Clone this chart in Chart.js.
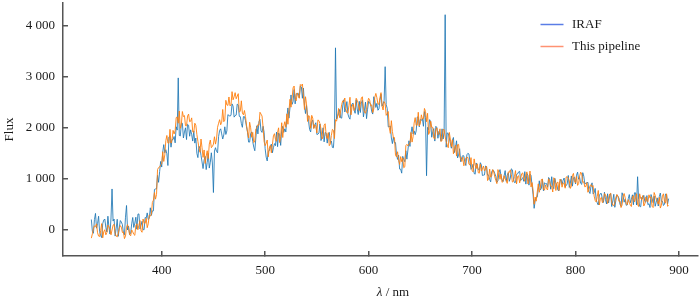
<!DOCTYPE html>
<html>
<head>
<meta charset="utf-8">
<script src="https://cdn.jsdelivr.net/npm/chart.js@4.4.1/dist/chart.umd.min.js"></script>
<style>
  html, body { margin: 0; padding: 0; background: #ffffff; }
  canvas { display: block; }
</style>
</head>
<body>
<canvas id="c" width="700" height="303"></canvas>
<script>
// Wavelength grid (nm), 1 nm sampling
const wavelength = [
  332,333,334,335,336,337,338,339,340,341,342,343,344,345,346,347,348,349,350,351,
  352,353,354,355,356,357,358,359,360,361,362,363,364,365,366,367,368,369,370,371,
  372,373,374,375,376,377,378,379,380,381,382,383,384,385,386,387,388,389,390,391,
  392,393,394,395,396,397,398,399,400,401,402,403,404,405,406,407,408,409,410,411,
  412,413,414,415,416,417,418,419,420,421,422,423,424,425,426,427,428,429,430,431,
  432,433,434,435,436,437,438,439,440,441,442,443,444,445,446,447,448,449,450,451,
  452,453,454,455,456,457,458,459,460,461,462,463,464,465,466,467,468,469,470,471,
  472,473,474,475,476,477,478,479,480,481,482,483,484,485,486,487,488,489,490,491,
  492,493,494,495,496,497,498,499,500,501,502,503,504,505,506,507,508,509,510,511,
  512,513,514,515,516,517,518,519,520,521,522,523,524,525,526,527,528,529,530,531,
  532,533,534,535,536,537,538,539,540,541,542,543,544,545,546,547,548,549,550,551,
  552,553,554,555,556,557,558,559,560,561,562,563,564,565,566,567,568,569,570,571,
  572,573,574,575,576,577,578,579,580,581,582,583,584,585,586,587,588,589,590,591,
  592,593,594,595,596,597,598,599,600,601,602,603,604,605,606,607,608,609,610,611,
  612,613,614,615,616,617,618,619,620,621,622,623,624,625,626,627,628,629,630,631,
  632,633,634,635,636,637,638,639,640,641,642,643,644,645,646,647,648,649,650,651,
  652,653,654,655,656,657,658,659,660,661,662,663,664,665,666,667,668,669,670,671,
  672,673,674,675,676,677,678,679,680,681,682,683,684,685,686,687,688,689,690,691,
  692,693,694,695,696,697,698,699,700,701,702,703,704,705,706,707,708,709,710,711,
  712,713,714,715,716,717,718,719,720,721,722,723,724,725,726,727,728,729,730,731,
  732,733,734,735,736,737,738,739,740,741,742,743,744,745,746,747,748,749,750,751,
  752,753,754,755,756,757,758,759,760,761,762,763,764,765,766,767,768,769,770,771,
  772,773,774,775,776,777,778,779,780,781,782,783,784,785,786,787,788,789,790,791,
  792,793,794,795,796,797,798,799,800,801,802,803,804,805,806,807,808,809,810,811,
  812,813,814,815,816,817,818,819,820,821,822,823,824,825,826,827,828,829,830,831,
  832,833,834,835,836,837,838,839,840,841,842,843,844,845,846,847,848,849,850,851,
  852,853,854,855,856,857,858,859,860,861,862,863,864,865,866,867,868,869,870,871,
  872,873,874,875,876,877,878,879,880,881,882,883,884,885,886,887,888,889,890
];

// IRAF flux
const irafFlux = [
  200,-30,-70,200,320,30,120,265,-40,-115,-155,120,190,210,45,-45,265,50,-85,230,
  800,170,210,-125,30,205,-130,40,180,150,100,-60,-100,245,475,-5,70,-95,-70,115,
  240,45,130,245,10,305,310,15,80,165,0,0,240,225,330,200,220,430,280,370,
  370,790,800,800,1070,930,1140,1340,1230,1520,1670,1510,1570,1490,1260,1820,1830,1620,1770,1770,
  1830,1705,2020,1955,2980,1850,1840,2085,2090,1800,1920,2000,1770,2070,2050,1835,1960,1865,1740,1940,
  1700,1800,1500,1415,1640,1590,1460,1330,1200,1370,1440,1180,1320,1495,1210,1325,1510,1310,730,1545,
  1610,1540,1510,1830,1950,1980,1880,1780,1860,2020,1870,1940,2260,2240,2230,2245,2470,2425,2210,2240,
  2250,2465,2450,2225,2220,2085,2010,2220,2220,2140,2020,1910,1720,1720,1890,1920,1730,1620,1550,1800,
  2040,1880,2120,2165,1940,1910,2030,1910,1590,1425,1350,1540,1550,1635,1680,1510,1610,1690,1650,1915,
  1630,1900,1860,1655,1960,2030,1910,1980,1920,2205,2390,2190,2390,2645,2460,2515,2750,2470,2670,2665,
  2680,2590,2820,2805,2580,2780,2440,2280,2440,2245,2120,1965,1920,2115,2150,1995,2060,2100,1870,1875,
  1900,2075,1750,1840,2000,1725,1910,1895,1700,1875,1910,1715,1740,1615,1610,1920,3570,2170,2220,2285,
  2360,2195,2190,2430,2550,2310,2380,2515,2270,2205,2170,2405,2470,2485,2350,2285,2550,2370,2260,2520,
  2300,2485,2540,2215,2350,2505,2180,2365,2520,2490,2460,2315,2270,2610,2540,2400,2480,2345,2370,2540,
  2660,2425,2470,2530,3200,2455,2380,2020,2020,2035,1800,1690,1820,1705,1710,1470,1380,1465,1190,1185,
  1110,1440,1375,1335,1550,1385,1565,1745,1635,1900,2020,1880,1940,1865,1940,2210,2215,2020,2165,2145,
  2180,2030,2320,2205,1060,2010,1960,2160,2120,1815,1920,1985,1740,2030,2000,1795,1930,1850,1740,1980,
  1780,1915,4220,1620,1900,1890,1800,1700,1600,1755,1810,1515,1620,1745,1410,1465,1590,1335,1420,1455,
  1450,1330,1260,1470,1500,1485,1335,1185,1210,1285,1105,1090,1310,1245,1185,1165,1315,1270,1065,1070,
  1075,1250,1240,1070,1075,985,940,1140,1175,1155,1100,1050,930,960,1120,1180,1060,985,945,1060,
  1160,950,1065,1115,950,1015,1195,1175,990,925,930,1085,1095,1135,1145,965,1000,1020,950,1140,
  895,1105,1070,875,1090,1065,870,685,420,565,640,640,790,960,780,810,990,765,920,905,
  905,835,1025,995,795,1040,850,805,1010,915,875,775,765,940,990,890,970,1015,840,865,
  900,1065,830,915,1055,855,1020,1030,900,1070,1130,990,1025,910,890,1120,1050,895,915,920,
  930,755,710,860,920,700,725,810,590,525,485,665,710,710,595,535,735,590,505,705,
  525,670,710,455,565,695,440,575,685,655,620,500,460,725,660,540,600,480,485,610,
  690,530,595,685,490,725,725,485,1040,595,460,450,635,610,675,555,540,670,490,510,
  435,690,620,530,660,460,540,625,465,650,720,555,560,475,500,700,690,505,610
];

// This pipeline flux
const pipelineFlux = [
  -165,-80,20,75,60,115,-60,-125,-135,-15,120,-160,-40,0,-100,-55,90,60,10,-100,
  -5,90,105,-70,-125,-140,-80,25,80,50,-55,-45,-175,-125,50,100,20,-95,-120,-5,
  -40,-90,-110,85,115,0,90,180,-20,-50,210,135,125,225,40,115,290,265,305,535,
  580,730,600,690,1180,1220,1230,1270,1290,1530,1340,1470,1750,1850,1700,1700,1970,1700,1760,1950,
  1880,1945,2200,2215,2090,2330,1990,2070,2320,2220,2240,2040,2040,2230,2270,2120,2130,2195,1920,1910,
  2090,2050,1870,1735,1610,1520,1780,1610,1420,1565,1300,1445,1550,1395,1680,1760,1610,1635,1680,1825,
  1680,1780,2010,2090,2160,2060,2110,2360,2120,2150,2540,2450,2440,2605,2430,2450,2710,2550,2610,2690,
  2570,2620,2670,2305,2330,2530,2290,2255,2340,2220,2050,1920,1800,2110,2000,1815,1910,1710,1740,1980,
  2000,2065,2050,2305,2270,2230,2010,1730,1650,1695,1760,1430,1600,1655,1510,1670,1840,1885,1770,1735,
  1910,2000,1710,1825,2100,1810,2030,2120,2010,2275,2070,2330,2560,2405,2580,2785,2820,2570,2530,2685,
  2620,2580,2850,2830,2860,2625,2360,2610,2470,2125,2240,2225,1990,2245,2190,1985,2060,2030,1900,2155,
  2140,2080,1980,1780,1830,2050,2080,1855,1790,1905,1650,1680,1850,1970,1950,1790,2160,2130,2230,2380,
  2200,2330,2460,2530,2510,2585,2370,2295,2290,2435,2600,2255,2410,2465,2340,2400,2580,2540,2480,2340,
  2460,2585,2610,2385,2310,2285,2360,2500,2580,2550,2430,2450,2300,2370,2600,2675,2590,2470,2460,2595,
  2690,2430,2350,2515,2470,2245,2280,2320,2000,1890,2140,1930,1800,1810,1460,1430,1530,1365,1280,1435,
  1335,1410,1215,1235,1650,1675,1645,1680,1700,1910,1720,1825,2090,2200,2050,2050,2305,2035,2090,2255,
  2170,2180,2380,2320,2120,2285,1870,1915,2130,2010,2010,1795,1780,1965,2000,1865,1890,1980,1730,1755,
  1970,1965,1820,1735,1660,1610,1910,1780,1630,1765,1490,1595,1660,1445,1670,1675,1450,1385,1340,1425,
  1255,1280,1410,1415,1420,1285,1270,1415,1165,1135,1390,1265,1200,1295,1120,1110,1290,1150,1190,1250,
  1155,1200,1245,965,995,1190,1030,1060,1180,1130,1035,965,905,1180,1120,990,1090,930,950,1060,
  990,980,910,1135,1125,1175,1080,935,950,1045,1160,900,1045,1060,920,1005,1100,1115,1005,950,
  1070,1135,900,960,1150,840,925,775,500,640,560,735,900,735,835,985,995,800,775,880,
  805,780,1000,950,855,855,740,1020,985,770,920,935,770,995,970,835,920,905,815,1035,
  1040,1015,955,810,860,1060,1105,950,920,1045,870,905,1055,1130,1095,930,940,840,850,925,
  735,790,860,885,840,865,660,575,545,650,770,485,600,635,530,570,710,680,630,515,
  605,700,715,540,485,470,530,635,690,660,555,565,435,485,660,710,630,515,490,590,
  535,480,455,645,670,545,625,705,495,455,705,615,590,670,465,505,645,565,550,685,
  620,650,460,435,730,675,595,555,500,635,425,480,660,705,555,520,705,460,475
];

const seriesLabels = ['IRAF', 'This pipeline'];
const xTickValues = [400, 500, 600, 700, 800, 900];
const yTickValues = [0, 1000, 2000, 3000, 4000];

const FONT_FAMILY = '"Liberation Serif", "Times New Roman", Times, serif';
const AXIS_COLOR = '#555555';
const TEXT_COLOR = '#1a1a1a';

function fmtThousands(v) {
  return String(v).replace(/\B(?=(\d{3})+(?!\d))/g, ' ');
}

const overlayPlugin = {
  id: 'overlayText',
  afterDraw(chart) {
    const ctx = chart.ctx;
    ctx.save();
    // Legend
    const legendColors = ['#5a7de6', '#ff9272'];
    const rows = [24.5, 46.5];
    ctx.font = '13px ' + FONT_FAMILY;
    ctx.textBaseline = 'middle';
    ctx.textAlign = 'left';
    chart.data.datasets.forEach((ds) => {
      const idx = seriesLabels.indexOf(ds.label);
      const y = rows[idx];
      ctx.strokeStyle = legendColors[idx];
      ctx.lineWidth = 1.5;
      ctx.beginPath();
      ctx.moveTo(540.5, y);
      ctx.lineTo(563.5, y);
      ctx.stroke();
      ctx.fillStyle = TEXT_COLOR;
      ctx.fillText(ds.label, 572, y + 0.5);
    });
    // X axis title: italic lambda + " / nm"
    const partA = 'λ';
    const partB = ' / nm';
    ctx.font = 'italic 13px ' + FONT_FAMILY;
    const wA = ctx.measureText(partA).width;
    ctx.font = '13px ' + FONT_FAMILY;
    const wB = ctx.measureText(partB).width;
    const cx = 393;
    const cy = 293;
    const x0 = cx - (wA + wB) / 2;
    ctx.fillStyle = TEXT_COLOR;
    ctx.font = 'italic 13px ' + FONT_FAMILY;
    ctx.fillText(partA, x0, cy);
    ctx.font = '13px ' + FONT_FAMILY;
    ctx.fillText(partB, x0 + wA, cy);
    ctx.restore();
  }
};

const ctx = document.getElementById('c').getContext('2d');
new Chart(ctx, {
  type: 'line',
  data: {
    datasets: [
      {
        label: seriesLabels[0],
        data: wavelength.map((x, i) => ({ x: x, y: irafFlux[i] })),
        borderColor: 'rgba(31,119,180,0.85)',
        borderWidth: 1,
        pointRadius: 0,
        tension: 0,
        fill: false,
        order: 1
      },
      {
        label: seriesLabels[1],
        data: wavelength.map((x, i) => ({ x: x, y: pipelineFlux[i] })),
        borderColor: 'rgba(255,127,14,0.9)',
        borderWidth: 1,
        pointRadius: 0,
        tension: 0,
        fill: false,
        order: 0
      }
    ]
  },
  options: {
    responsive: false,
    animation: false,
    devicePixelRatio: 1,
    layout: { padding: { left: 0, right: 2, top: 3, bottom: 0 } },
    plugins: {
      legend: { display: false },
      tooltip: { enabled: false }
    },
    scales: {
      x: {
        type: 'linear',
        min: 304.6,
        max: 918.4,
        afterBuildTicks: (s) => { s.ticks = xTickValues.map(v => ({ value: v })); },
        afterFit: (s) => { s.height = 47; s.paddingLeft = 0; s.paddingRight = 0; },
        ticks: {
          font: { family: FONT_FAMILY, size: 13 },
          color: TEXT_COLOR,
          padding: 12,
          maxRotation: 0,
          autoSkip: false,
          callback: (v) => String(v)
        },
        grid: {
          display: true,
          drawOnChartArea: false,
          drawTicks: true,
          tickLength: -5,
          color: AXIS_COLOR,
          lineWidth: 1.5
        },
        border: { display: true, color: AXIS_COLOR, width: 1.5 }
      },
      y: {
        type: 'linear',
        min: -516,
        max: 4450,
        afterBuildTicks: (s) => { s.ticks = yTickValues.map(v => ({ value: v })); },
        afterFit: (s) => { s.width = 63; s.paddingTop = 0; s.paddingBottom = 0; },
        ticks: {
          font: { family: FONT_FAMILY, size: 13 },
          color: TEXT_COLOR,
          padding: 13,
          autoSkip: false,
          callback: (v) => fmtThousands(v)
        },
        grid: {
          display: true,
          drawOnChartArea: false,
          drawTicks: true,
          tickLength: -5,
          color: AXIS_COLOR,
          lineWidth: 1.5
        },
        border: { display: true, color: AXIS_COLOR, width: 1.5 },
        title: {
          display: true,
          text: 'Flux',
          font: { family: FONT_FAMILY, size: 13 },
          color: TEXT_COLOR,
          padding: { top: 2, bottom: 0 }
        }
      }
    }
  },
  plugins: [overlayPlugin]
});
</script>
</body>
</html>
